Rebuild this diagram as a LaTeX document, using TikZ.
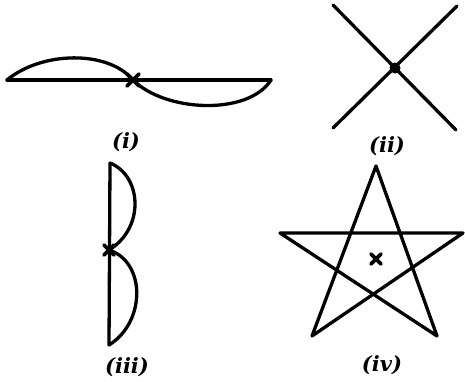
\documentclass[tikz,border=0pt]{standalone}
\usepackage{fontspec}
\usetikzlibrary{calc}
\newfontfamily\labfont{DejaVu Serif}
\begin{document}
\begin{tikzpicture}[x=1pt,y=-1pt,
  ln/.style={line width=3.3pt,line cap=round,line join=round},
  xmark/.style={line width=3.6pt,line cap=round},
  lab/.style={font=\labfont\bfseries\itshape\fontsize{21}{24}\selectfont,inner sep=0pt}]
\useasboundingbox (0,0) rectangle (465,381);
% (i)
\coordinate (aL) at (7,80);
\coordinate (aC) at (133,80);
\coordinate (aR) at (271,80);
\draw[ln] (aL) -- (aR);
\draw[ln] (aL) .. controls (42,51) and (108,50) .. (aC);
\draw[ln] (aC) .. controls (165,112) and (248,116) .. (aR);
\draw[xmark] ($(aC)+(-6,-6)$) -- ($(aC)+(6,6)$) ($(aC)+(-6,6)$) -- ($(aC)+(6,-6)$);
\node[lab] (li) at (126,142) {(i)};
% (ii)
\coordinate (b1) at (333,5);
\coordinate (b2) at (456,130);
\coordinate (b3) at (457,6);
\coordinate (b4) at (333,128);
\draw[ln] (b1) -- (b2);
\draw[ln] (b3) -- (b4);
\fill (395,68) circle (5.5);
\node[lab] (lii) at (387,146) {(ii)};
% (iii)
\coordinate (cT) at (110,163);
\coordinate (cC) at (109,250);
\coordinate (cB) at (109,345);
\draw[ln] (cT) -- (cB);
\draw[ln] (cT) .. controls (142,176) and (145,228) .. (cC);
\draw[ln] (cC) .. controls (146,262) and (146,322) .. (cB);
\draw[xmark] ($(cC)+(-5,-5)$) -- ($(cC)+(5,5)$) ($(cC)+(-5,5)$) -- ($(cC)+(5,-5)$);
\node[lab] (liii) at (127,367) {(iii)};
% (iv)
\coordinate (sT) at (376,166);
\coordinate (sBL) at (312,336);
\coordinate (sR) at (463,233);
\coordinate (sL) at (280,233);
\coordinate (sBR) at (437,336);
\draw[ln] (sT) -- (sBL) -- (sR) -- (sL) -- (sBR) -- cycle;
\draw[xmark] (371,254) -- (381,264) (371,264) -- (381,254);
\node[lab] (liv) at (382,365) {(iv)};
\end{tikzpicture}
\end{document}
